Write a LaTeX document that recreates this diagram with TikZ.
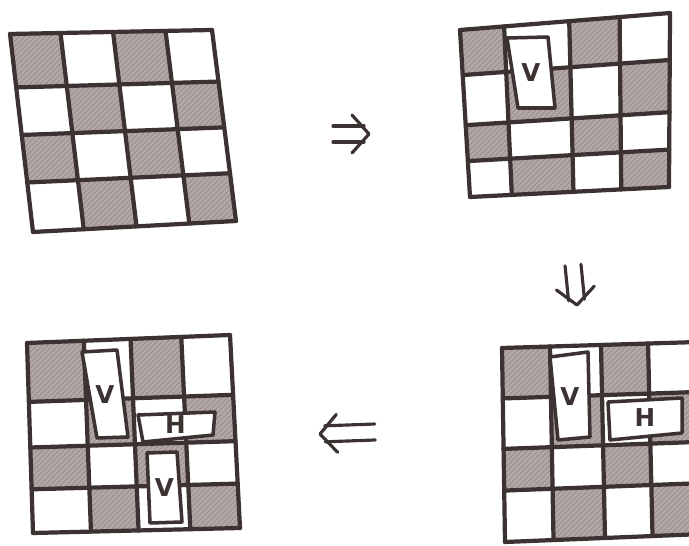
\documentclass[tikz,border=0pt]{standalone}
\usepackage{fontspec}
\setsansfont{DejaVu Sans}
\usetikzlibrary{calc,patterns}
\definecolor{InkBrown}{RGB}{60,50,50}
\definecolor{LeadGray}{RGB}{178,169,166}
\definecolor{LeadDark}{RGB}{148,138,135}

% board #1 with corners #1tl,#1tr,#1bl,#1br; column and row fractions #2,#3
\newcommand{\board}[3]{%
  \foreach \i in {0,...,4}{\foreach \j in {0,...,4}{
    \pgfmathsetmacro{\uu}{{#2}[\i]}\pgfmathsetmacro{\vv}{{#3}[\j]}
    \coordinate (#1-\i-\j) at ($ {(1-\uu)*(1-\vv)}*(#1tl) + {\uu*(1-\vv)}*(#1tr) + {(1-\uu)*\vv}*(#1bl) + {\uu*\vv}*(#1br) $);}}
  \foreach \i in {0,...,3}{\foreach \j in {0,...,3}{
    \pgfmathtruncatemacro{\parity}{mod(\i+\j,2)}
    \ifnum\parity=0
      \pgfmathtruncatemacro{\ii}{\i+1}\pgfmathtruncatemacro{\jj}{\j+1}
      \fill[leadfill] (#1-\i-\j) -- (#1-\ii-\j) -- (#1-\ii-\jj) -- (#1-\i-\jj) -- cycle;
    \fi}}
  \foreach \k in {0,...,4}{
    \draw[gridline] (#1-\k-0) -- (#1-\k-4);
    \draw[gridline] (#1-0-\k) -- (#1-4-\k);}}

% domino #1 with corners #2..#5 and letter #6
\newcommand{\domino}[6]{%
  \coordinate (#1a) at #2; \coordinate (#1b) at #3;
  \coordinate (#1c) at #4; \coordinate (#1d) at #5;
  \filldraw[tile] (#1a) -- (#1b) -- (#1c) -- (#1d) -- cycle;
  \node[tilelabel] (#1) at ($(#1a)!0.5!(#1c)$) {#6};}

% double arrow from #1 to the tip #2
\newcommand{\dblarrow}[2]{%
  \coordinate (#2back) at ($(#2)!0.1cm!(#1)$);
  \coordinate (#2head) at ($(#2)!0.34cm!(#1)$);
  \draw[arrowline] ($(#1)!0.16cm!90:(#2)$) -- ($(#2back)!0.16cm!-90:(#1)$);
  \draw[arrowline] ($(#1)!0.16cm!-90:(#2)$) -- ($(#2back)!0.16cm!90:(#1)$);
  \draw[arrowline] ($(#2head)!0.38cm!90:(#1)$) -- (#2) -- ($(#2head)!0.38cm!-90:(#1)$);}

\begin{document}
\begin{tikzpicture}[x=0.02cm,y=-0.02cm,
  leadfill/.style={fill=LeadGray,postaction={pattern=north east lines,pattern color=LeadDark}},
  gridline/.style={draw=InkBrown,line width=2.4pt,line cap=round},
  tile/.style={draw=InkBrown,fill=white,line width=2pt,line join=round},
  tilelabel/.style={font=\sffamily\bfseries\fontsize{14}{14}\selectfont,text=InkBrown,inner sep=0pt},
  arrowline/.style={draw=InkBrown,line width=1.8pt,line cap=round,line join=round}]
\useasboundingbox (0,0) rectangle (689,546);
\clip (0,0) rectangle (689,546);

\coordinate (b1tl) at (10,34);  \coordinate (b1tr) at (212,30);
\coordinate (b1bl) at (33,232); \coordinate (b1br) at (236,221);
\coordinate (b2tl) at (460,30); \coordinate (b2tr) at (670,13);
\coordinate (b2bl) at (470,197);\coordinate (b2br) at (669,187);
\coordinate (b3tl) at (502,348);\coordinate (b3tr) at (698,342);
\coordinate (b3bl) at (505,542);\coordinate (b3br) at (703,534);
\coordinate (b4tl) at (27,343); \coordinate (b4tr) at (230,335);
\coordinate (b4bl) at (33,533); \coordinate (b4br) at (240,528);

\board{b1}{0,0.25,0.51,0.77,1}{0,0.27,0.51,0.75,1}
\board{b2}{0,0.21,0.52,0.76,1}{0,0.27,0.57,0.785,1}
\board{b3}{0,0.245,0.505,0.745,1}{0,0.26,0.52,0.735,1}
\board{b4}{0,0.28,0.51,0.76,1}{0,0.31,0.55,0.77,1}

\domino{v2}{(507,38)}{(548,37)}{(555,108)}{(518,108)}{V}
\domino{v3}{(550,357)}{(588,352)}{(590,437)}{(558,440)}{V}
\domino{h3}{(608,402)}{(682,398)}{(682,433)}{(610,440)}{H}
\domino{v4}{(82,352)}{(117,350)}{(128,437)}{(97,438)}{V}
\domino{h4}{(138,415)}{(215,412)}{(213,435)}{(143,442)}{H}
\domino{w4}{(147,453)}{(177,452)}{(182,522)}{(150,523)}{V}

\coordinate (r1) at (333,134); \coordinate (r2) at (369,134);
\coordinate (d1) at (573,265); \coordinate (d2) at (577,305);
\coordinate (l1) at (375,432); \coordinate (l2) at (320,434);
\dblarrow{r1}{r2}
\dblarrow{d1}{d2}
\dblarrow{l1}{l2}
\end{tikzpicture}
\end{document}
